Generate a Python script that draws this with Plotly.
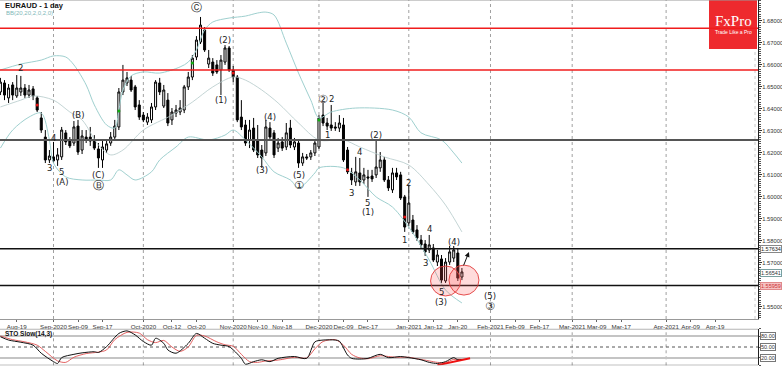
import plotly.graph_objects as go
import pandas as pd

# ---------------- calendar (trading days shown on the chart) ----------------
HOLIDAYS = ["2020-12-25", "2021-01-01"]
bar_dates = [d.strftime("%Y-%m-%d") for d in pd.bdate_range("2020-08-13", "2021-01-21")
             if d.strftime("%Y-%m-%d") not in HOLIDAYS]

# ---------------- EURAUD daily OHLC ----------------
open_ = [1.6476, 1.6517, 1.6449, 1.6508, 1.6458, 1.6476, 1.6494, 1.6462, 1.6490, 1.6449,
         1.6358, 1.6271, 1.6167, 1.6181, 1.6167, 1.6181, 1.6290, 1.6258, 1.6244, 1.6321,
         1.6212, 1.6271, 1.6271, 1.6258, 1.6217, 1.6167, 1.6212, 1.6244, 1.6271, 1.6317,
         1.6476, 1.6517, 1.6530, 1.6499, 1.6417, 1.6371, 1.6339, 1.6349, 1.6408, 1.6517,
         1.6412, 1.6439, 1.6349, 1.6380, 1.6385, 1.6394, 1.6499, 1.6544, 1.6635, 1.6703,
         1.6758, 1.6603, 1.6612, 1.6599, 1.6576, 1.6612, 1.6676, 1.6576, 1.6544, 1.6362,
         1.6326, 1.6258, 1.6312, 1.6258, 1.6212, 1.6199, 1.6312, 1.6290, 1.6221, 1.6249,
         1.6226, 1.6312, 1.6226, 1.6244, 1.6153, 1.6181, 1.6181, 1.6199, 1.6226, 1.6371,
         1.6335, 1.6326, 1.6317, 1.6312, 1.6326, 1.6212, 1.6108, 1.6067, 1.6108, 1.6076,
         1.6090, 1.6094, 1.6099, 1.6131, 1.6167, 1.6076, 1.6031, 1.6108, 1.6099, 1.5999,
         1.5881, 1.5894, 1.5849, 1.5803, 1.5785, 1.5758, 1.5767, 1.5703, 1.5717, 1.5617,
         1.5703, 1.5721, 1.5744, 1.5635]
high_ = [1.6540, 1.6530, 1.6512, 1.6521, 1.6553, 1.6549, 1.6512, 1.6508, 1.6503, 1.6458,
         1.6385, 1.6303, 1.6212, 1.6249, 1.6221, 1.6317, 1.6303, 1.6271, 1.6344, 1.6349,
         1.6303, 1.6303, 1.6317, 1.6280, 1.6244, 1.6258, 1.6258, 1.6294, 1.6349, 1.6494,
         1.6599, 1.6567, 1.6549, 1.6508, 1.6439, 1.6385, 1.6380, 1.6426, 1.6530, 1.6540,
         1.6508, 1.6471, 1.6403, 1.6417, 1.6439, 1.6508, 1.6567, 1.6644, 1.6730, 1.6817,
         1.6771, 1.6667, 1.6630, 1.6621, 1.6644, 1.6689, 1.6685, 1.6594, 1.6553, 1.6439,
         1.6349, 1.6349, 1.6358, 1.6326, 1.6235, 1.6349, 1.6339, 1.6303, 1.6267, 1.6271,
         1.6335, 1.6349, 1.6267, 1.6258, 1.6199, 1.6194, 1.6212, 1.6258, 1.6371, 1.6426,
         1.6358, 1.6417, 1.6339, 1.6371, 1.6358, 1.6226, 1.6131, 1.6181, 1.6176, 1.6131,
         1.6122, 1.6122, 1.6258, 1.6203, 1.6181, 1.6094, 1.6131, 1.6131, 1.6113, 1.6008,
         1.6053, 1.5917, 1.5871, 1.5826, 1.5803, 1.5826, 1.5785, 1.5758, 1.5735, 1.5721,
         1.5776, 1.5776, 1.5767, 1.5676]
low_ = [1.6462, 1.6439, 1.6426, 1.6439, 1.6449, 1.6458, 1.6449, 1.6449, 1.6439, 1.6385,
        1.6290, 1.6153, 1.6153, 1.6153, 1.6140, 1.6167, 1.6235, 1.6221, 1.6231, 1.6190,
        1.6194, 1.6244, 1.6231, 1.6212, 1.6131, 1.6131, 1.6199, 1.6231, 1.6258, 1.6303,
        1.6462, 1.6503, 1.6476, 1.6394, 1.6349, 1.6339, 1.6326, 1.6335, 1.6394, 1.6462,
        1.6403, 1.6321, 1.6326, 1.6362, 1.6371, 1.6380, 1.6485, 1.6530, 1.6621, 1.6694,
        1.6658, 1.6585, 1.6549, 1.6558, 1.6462, 1.6599, 1.6567, 1.6521, 1.6339, 1.6303,
        1.6231, 1.6221, 1.6203, 1.6176, 1.6131, 1.6185, 1.6258, 1.6176, 1.6203, 1.6208,
        1.6212, 1.6221, 1.6212, 1.6131, 1.6140, 1.6167, 1.6167, 1.6185, 1.6217, 1.6321,
        1.6303, 1.6299, 1.6299, 1.6294, 1.6158, 1.6103, 1.6053, 1.6049, 1.6049, 1.6058,
        1.5999, 1.6067, 1.6085, 1.6113, 1.6067, 1.6026, 1.6017, 1.6076, 1.5985, 1.5840,
        1.5867, 1.5831, 1.5799, 1.5767, 1.5731, 1.5744, 1.5703, 1.5685, 1.5608, 1.5608,
        1.5690, 1.5703, 1.5617, 1.5621]
close_ = [1.6521, 1.6462, 1.6494, 1.6462, 1.6494, 1.6494, 1.6462, 1.6485, 1.6458, 1.6394,
          1.6303, 1.6167, 1.6185, 1.6163, 1.6190, 1.6303, 1.6249, 1.6231, 1.6317, 1.6203,
          1.6276, 1.6258, 1.6253, 1.6221, 1.6176, 1.6226, 1.6240, 1.6271, 1.6321, 1.6476,
          1.6530, 1.6540, 1.6485, 1.6408, 1.6362, 1.6349, 1.6362, 1.6408, 1.6521, 1.6476,
          1.6485, 1.6335, 1.6385, 1.6394, 1.6403, 1.6499, 1.6544, 1.6630, 1.6712, 1.6780,
          1.6667, 1.6630, 1.6562, 1.6567, 1.6621, 1.6676, 1.6576, 1.6544, 1.6349, 1.6317,
          1.6244, 1.6303, 1.6212, 1.6190, 1.6176, 1.6317, 1.6271, 1.6190, 1.6244, 1.6221,
          1.6290, 1.6235, 1.6249, 1.6153, 1.6181, 1.6176, 1.6199, 1.6244, 1.6358, 1.6335,
          1.6321, 1.6312, 1.6312, 1.6335, 1.6167, 1.6113, 1.6076, 1.6113, 1.6067, 1.6099,
          1.6085, 1.6081, 1.6135, 1.6167, 1.6076, 1.6040, 1.6108, 1.6090, 1.5994, 1.5862,
          1.5971, 1.5840, 1.5812, 1.5781, 1.5749, 1.5781, 1.5712, 1.5735, 1.5621, 1.5703,
          1.5749, 1.5758, 1.5630, 1.5658]

# ---------------- Bollinger bands ----------------
bb_up_dates = ["2020-08-13", "2020-08-20", "2020-08-27", "2020-09-01", "2020-09-04", "2020-09-08",
               "2020-09-11", "2020-09-15", "2020-09-18", "2020-09-22", "2020-09-23", "2020-09-24",
               "2020-09-28", "2020-10-01", "2020-10-07", "2020-10-14", "2020-10-16", "2020-10-20",
               "2020-10-22", "2020-10-26", "2020-10-30", "2020-11-05", "2020-11-10", "2020-11-12",
               "2020-11-16", "2020-11-19", "2020-11-24", "2020-11-27", "2020-12-01", "2020-12-04",
               "2020-12-14", "2020-12-28", "2021-01-04", "2021-01-07", "2021-01-14", "2021-01-19",
               "2021-01-21"]
bb_up = [1.6576, 1.6603, 1.6621, 1.6640, 1.6635, 1.6599, 1.6508, 1.6417, 1.6326, 1.6312,
         1.6394, 1.6485, 1.6549, 1.6567, 1.6562, 1.6590, 1.6612, 1.6667, 1.6758, 1.6794,
         1.6812, 1.6821, 1.6835, 1.6839, 1.6826, 1.6698, 1.6562, 1.6439, 1.6358, 1.6385,
         1.6403, 1.6394, 1.6362, 1.6290, 1.6258, 1.6199, 1.6153]
bb_mid_dates = ["2020-08-13", "2020-08-20", "2020-08-25", "2020-09-01", "2020-09-07", "2020-09-10",
                "2020-09-16", "2020-09-21", "2020-09-24", "2020-10-01", "2020-10-12", "2020-10-19",
                "2020-10-26", "2020-11-02", "2020-11-05", "2020-11-11", "2020-11-17", "2020-11-24",
                "2020-12-01", "2020-12-09", "2020-12-15", "2020-12-23", "2021-01-04", "2021-01-11",
                "2021-01-15", "2021-01-21"]
bb_mid = [1.6408, 1.6439, 1.6458, 1.6439, 1.6385, 1.6349, 1.6235, 1.6190, 1.6212, 1.6303,
          1.6371, 1.6430, 1.6499, 1.6544, 1.6530, 1.6485, 1.6426, 1.6335, 1.6258, 1.6258,
          1.6226, 1.6181, 1.6144, 1.6053, 1.5962, 1.5840]
bb_low_dates = ["2020-08-13", "2020-08-18", "2020-08-24", "2020-08-27", "2020-08-31", "2020-09-01",
                "2020-09-04", "2020-09-10", "2020-09-16", "2020-09-21", "2020-09-23", "2020-09-25",
                "2020-09-29", "2020-10-05", "2020-10-07", "2020-10-13", "2020-10-16", "2020-10-23",
                "2020-10-29", "2020-11-02", "2020-11-05", "2020-11-11", "2020-11-16", "2020-11-20",
                "2020-11-24", "2020-11-30", "2020-12-01", "2020-12-09", "2020-12-15", "2020-12-21",
                "2020-12-28", "2021-01-05", "2021-01-11", "2021-01-15", "2021-01-21"]
bb_low = [1.6221, 1.6303, 1.6362, 1.6380, 1.6258, 1.6153, 1.6090, 1.6076, 1.6076, 1.6076,
          1.6122, 1.6099, 1.6076, 1.6113, 1.6167, 1.6226, 1.6271, 1.6258, 1.6280, 1.6303,
          1.6258, 1.6181, 1.6113, 1.6076, 1.6040, 1.6108, 1.6131, 1.6131, 1.6076, 1.5999,
          1.5953, 1.5835, 1.5712, 1.5576, 1.5517]

# ---------------- signal dots ----------------
red_dot_dates = ["2020-08-26", "2020-11-02", "2020-12-10", "2020-12-31"]
red_dot_prices = [1.6417, 1.6562, 1.6122, 1.5908]
green_dot_dates = ["2020-09-23", "2020-10-19", "2020-12-01"]
green_dot_prices = [1.6389, 1.6608, 1.6349]

# ---------------- horizontal levels ----------------
red_levels = [1.67655, 1.65759]
grey_levels = [1.62577]
black_levels = [1.57634, 1.55964]

# ---------------- wave labels ----------------
wave_text = ["2", "3", "4", "5", "(A)", "(B)", "(C)", "Ⓑ", "Ⓒ", "(2)", "(1)", "(4)", "(3)",
             "(5)", "①", "②", "2", "1", "(2)", "3", "4", "5", "(1)", "2", "1", "4", "3",
             "(4)", "5", "(3)", "(5)", "③"]
wave_dates = ["2020-08-20", "2020-08-31", "2020-09-01", "2020-09-03", "2020-09-03", "2020-09-09",
              "2020-09-16", "2020-09-16", "2020-10-20", "2020-10-29", "2020-10-28", "2020-11-13",
              "2020-11-11", "2020-11-24", "2020-11-24", "2020-12-02", "2020-12-04", "2020-12-03",
              "2020-12-21", "2020-12-11", "2020-12-15", "2020-12-17", "2020-12-17", "2021-01-04",
              "2020-12-31", "2021-01-11", "2021-01-08", "2021-01-19", "2021-01-14", "2021-01-14",
              "2021-02-01", "2021-02-01"]
wave_prices = [1.6585, 1.6131, 1.6267, 1.6113, 1.6067, 1.6371, 1.6099, 1.6049, 1.6858, 1.6712,
               1.6439, 1.6362, 1.6122, 1.6099, 1.6049, 1.6444, 1.6444, 1.6280, 1.6280, 1.6017,
               1.6203, 1.5971, 1.5930, 1.6062, 1.5803, 1.5853, 1.5699, 1.5794, 1.5567, 1.5521,
               1.5549, 1.5503]

# ---------------- highlight circles / arrow ----------------
circle_dates = ["2021-01-15", "2021-01-21 12:00"]
circle_prices = [1.5617, 1.5621]
arrow_date = "2021-01-22"
arrow_price = 1.5749

# ---------------- price axis / tags ----------------
price_ticks = [1.55, 1.57, 1.58, 1.59, 1.60, 1.61, 1.62, 1.63, 1.64, 1.65, 1.66, 1.67, 1.68]
tag_prices = [1.57634, 1.56541, 1.55959]
tag_text = ["1.57634", "1.56541", "1.55959"]

# ---------------- Stochastic slow (14,3) ----------------
sto_k_dates = ["2020-08-13", "2020-08-17", "2020-08-20", "2020-08-25", "2020-08-27", "2020-09-01",
               "2020-09-02", "2020-09-03", "2020-09-08", "2020-09-10", "2020-09-15", "2020-09-16",
               "2020-09-18", "2020-09-23", "2020-09-25", "2020-09-29", "2020-10-01", "2020-10-05",
               "2020-10-06", "2020-10-08", "2020-10-09", "2020-10-13", "2020-10-16", "2020-10-20",
               "2020-10-22", "2020-10-26", "2020-10-28", "2020-10-30", "2020-11-04", "2020-11-05",
               "2020-11-09", "2020-11-11", "2020-11-13", "2020-11-17", "2020-11-23", "2020-11-26",
               "2020-11-30", "2020-12-02", "2020-12-07", "2020-12-08", "2020-12-10", "2020-12-11",
               "2020-12-15", "2020-12-17", "2020-12-22", "2020-12-24", "2020-12-30", "2021-01-04",
               "2021-01-07", "2021-01-11", "2021-01-13", "2021-01-15", "2021-01-19", "2021-01-20",
               "2021-01-21"]
sto_k = [78, 69, 63, 55, 33, 10, 5, 21, 30, 34, 37, 35, 51, 87, 94, 83, 65, 55, 74, 60, 42, 33,
         60, 87, 74, 60, 55, 51, 19, 3, 10, 15, 10, 19, 24, 19, 64, 69, 69, 66, 28, 19, 17, 19,
         30, 21, 24, 21, 15, 8, 5, 10, 21, 15, 16]
sto_d_dates = ["2020-08-13", "2020-08-18", "2020-08-21", "2020-08-26", "2020-08-28", "2020-09-02",
               "2020-09-04", "2020-09-08", "2020-09-11", "2020-09-16", "2020-09-18", "2020-09-22",
               "2020-09-25", "2020-09-30", "2020-10-02", "2020-10-06", "2020-10-08", "2020-10-12",
               "2020-10-14", "2020-10-16", "2020-10-20", "2020-10-22", "2020-10-27", "2020-10-29",
               "2020-11-02", "2020-11-04", "2020-11-06", "2020-11-10", "2020-11-12", "2020-11-16",
               "2020-11-18", "2020-11-23", "2020-11-26", "2020-11-30", "2020-12-02", "2020-12-07",
               "2020-12-09", "2020-12-11", "2020-12-15", "2020-12-17", "2020-12-22", "2020-12-24",
               "2020-12-29", "2021-01-04", "2021-01-06", "2021-01-11", "2021-01-13", "2021-01-15",
               "2021-01-19", "2021-01-21"]
sto_d = [80, 70, 64, 55, 38, 12, 8, 22, 32, 36, 42, 70, 90, 88, 70, 62, 68, 50, 38, 50, 82, 80,
         64, 56, 52, 30, 10, 8, 12, 13, 16, 22, 20, 45, 65, 70, 55, 30, 20, 18, 26, 24, 22, 22,
         18, 12, 8, 8, 16, 16]
sto_trend_dates = ["2021-01-13", "2021-01-25"]
sto_trend_vals = [0.5, 19]
sto_levels = [80, 50, 20]
sto_level_text = ["80.00", "50.00", "20.00"]

# ---------------- date axis labels ----------------
tick_dates = ["2020-08-19", "2020-09-01", "2020-09-09", "2020-09-17", "2020-10-01", "2020-10-12",
              "2020-10-20", "2020-11-02", "2020-11-10", "2020-11-18", "2020-12-01", "2020-12-09",
              "2020-12-17", "2021-01-04", "2021-01-12", "2021-01-20", "2021-02-01", "2021-02-09",
              "2021-02-17", "2021-03-01", "2021-03-09", "2021-03-17", "2021-04-01", "2021-04-09",
              "2021-04-19"]
tick_text = ["Aug-19", "Sep-2020", "Sep-09", "Sep-17", "Oct-2020", "Oct-12", "Oct-20", "Nov-2020",
             "Nov-10", "Nov-18", "Dec-2020", "Dec-09", "Dec-17", "Jan-2021", "Jan-12", "Jan-20",
             "Feb-2021", "Feb-09", "Feb-17", "Mar-2021", "Mar-09", "Mar-17", "Apr-2021", "Apr-09",
             "Apr-19"]
month_starts = ["2020-09-01", "2020-10-01", "2020-11-02", "2020-12-01", "2021-01-04",
                "2021-02-01", "2021-03-01", "2021-04-01"]

# ================= figure =================
W, H = 782, 366
FONT = "Liberation Sans, Arial, sans-serif"
main_bottom_px, sto_top_px, sto_bot_px = 319, 328.7, 365.3

fig = go.Figure()

fig.add_trace(go.Candlestick(
    x=bar_dates, open=open_, high=high_, low=low_, close=close_,
    increasing=dict(line=dict(color="#000000", width=1), fillcolor="#ffffff"),
    decreasing=dict(line=dict(color="#000000", width=1), fillcolor="#000000"),
    whiskerwidth=0, hoverinfo="skip", showlegend=False, xaxis="x", yaxis="y"))

band_col = "#9fd0cf"
for xs, ys, col, w in [(bb_up_dates, bb_up, band_col, 1), (bb_low_dates, bb_low, band_col, 1),
                       (bb_mid_dates, bb_mid, "#b4c9c9", 0.8)]:
    fig.add_trace(go.Scatter(x=xs, y=ys, mode="lines", hoverinfo="skip", showlegend=False,
                             line=dict(color=col, width=w, shape="spline", smoothing=0.9),
                             xaxis="x", yaxis="y"))

fig.add_trace(go.Scatter(x=red_dot_dates, y=red_dot_prices, mode="markers", hoverinfo="skip",
                         marker=dict(color="#e01010", size=3), showlegend=False))
fig.add_trace(go.Scatter(x=green_dot_dates, y=green_dot_prices, mode="markers", hoverinfo="skip",
                         marker=dict(color="#10b010", size=3), showlegend=False))

# stochastic
fig.add_trace(go.Scatter(x=sto_d_dates, y=sto_d, mode="lines", hoverinfo="skip", showlegend=False,
                         line=dict(color="#e05050", width=0.9, shape="spline", smoothing=0.8),
                         xaxis="x2", yaxis="y2"))
fig.add_trace(go.Scatter(x=sto_k_dates, y=sto_k, mode="lines", hoverinfo="skip", showlegend=False,
                         line=dict(color="#111111", width=1, shape="spline", smoothing=0.8),
                         xaxis="x2", yaxis="y2"))
fig.add_trace(go.Scatter(x=sto_trend_dates, y=sto_trend_vals, mode="lines", hoverinfo="skip",
                         showlegend=False, line=dict(color="#ee1111", width=2),
                         xaxis="x2", yaxis="y2"))

shapes = []
# logo box
shapes.append(dict(type="rect", xref="paper", yref="paper", x0=709 / 758, x1=757 / 758,
                   y0=1 - 49 / H, y1=1, fillcolor="#ee2a2e", line=dict(width=0), layer="above"))
# month separators
for d in month_starts:
    for yr in ["y domain", "y2 domain"]:
        shapes.append(dict(type="line", xref="x" if yr == "y domain" else "x2", yref=yr,
                           x0=d, x1=d, y0=0, y1=1,
                           line=dict(color="#a0a0a0", width=1, dash="dot"), layer="below"))
# dotted line along the right edge
shapes.append(dict(type="line", xref="paper", yref="paper", x0=755 / 758, x1=755 / 758,
                   y0=1 - main_bottom_px / H, y1=1,
                   line=dict(color="#c8c8c8", width=1, dash="dot"), layer="below"))
for lv in red_levels:
    shapes.append(dict(type="line", xref="paper", yref="y", x0=0, x1=1, y0=lv, y1=lv,
                       line=dict(color="#f01c1c", width=1.6)))
for lv in grey_levels:
    shapes.append(dict(type="line", xref="paper", yref="y", x0=0, x1=1, y0=lv, y1=lv,
                       line=dict(color="#555555", width=2)))
for lv in black_levels:
    shapes.append(dict(type="line", xref="paper", yref="y", x0=0, x1=1, y0=lv, y1=lv,
                       line=dict(color="#111111", width=1.6)))
# highlight circles
for d, p in zip(circle_dates, circle_prices):
    shapes.append(dict(type="circle", xref="x", yref="y", xsizemode="pixel", ysizemode="pixel",
                       xanchor=d, yanchor=p, x0=-15, x1=15, y0=-15, y1=15,
                       fillcolor="rgba(255,90,90,0.22)", line=dict(color="rgba(225,60,60,0.9)", width=1)))
# stochastic levels and frame
shapes.append(dict(type="line", xref="paper", yref="y2", x0=0, x1=1, y0=100, y1=100,
                   line=dict(color="#b5b5b5", width=2)))
shapes.append(dict(type="line", xref="paper", yref="y2", x0=0, x1=1, y0=0, y1=0,
                   line=dict(color="#666666", width=1)))
for lv in sto_levels:
    if lv == 50:
        shapes.append(dict(type="line", xref="paper", yref="y2", x0=0, x1=1, y0=lv, y1=lv,
                           line=dict(color="#555555", width=1, dash="dot"), layer="below"))
    else:
        shapes.append(dict(type="line", xref="paper", yref="y2", x0=0, x1=1, y0=lv, y1=lv,
                           line=dict(color="#c4c4c4", width=2), layer="below"))
# main top border
shapes.append(dict(type="line", xref="paper", yref="paper", x0=0, x1=1, y0=1, y1=1,
                   line=dict(color="#999999", width=1)))

ann = []
for t, d, p in zip(wave_text, wave_dates, wave_prices):
    circ = t in ("Ⓑ", "Ⓒ", "①", "②", "③")
    ann.append(dict(x=d, y=p, xref="x", yref="y", text=t, showarrow=False,
                    font=dict(family="DejaVu Sans, sans-serif", size=11 if circ else 8.5,
                              color="#222222")))
ann.append(dict(x=arrow_date, y=arrow_price, xref="x", yref="y", text="", showarrow=True,
                xshift=3, ax=-6, ay=15, arrowhead=2, arrowsize=1, arrowwidth=1,
                arrowcolor="#111111"))
# titles
ann.append(dict(x=0.004, y=1 - 5 / H, xref="paper", yref="paper", text="<b>EURAUD - 1 day</b>",
                showarrow=False, xanchor="left", yanchor="middle",
                font=dict(family=FONT, size=7.5, color="#111111")))
ann.append(dict(x=0.005, y=1 - 13.5 / H, xref="paper", yref="paper", text="BB(20,20,2,0,2,0)",
                showarrow=False, xanchor="left", yanchor="middle",
                font=dict(family=FONT, size=6, color="#7fb8b8")))
ann.append(dict(x=0.004, y=1 - 334 / H, xref="paper", yref="paper", text="<b>STO Slow(14,3)</b>",
                showarrow=False, xanchor="left", yanchor="middle",
                font=dict(family=FONT, size=6.5, color="#111111")))
# logo text
ann.append(dict(x=733 / 758, y=1 - 21 / H, xref="paper", yref="paper", text="FxPro",
                showarrow=False, xanchor="center", yanchor="middle",
                font=dict(family="Liberation Serif, serif", size=15, color="#ffffff")))
ann.append(dict(x=733 / 758, y=1 - 32 / H, xref="paper", yref="paper", text="Trade Like a Pro",
                showarrow=False, xanchor="center", yanchor="middle",
                font=dict(family=FONT, size=5, color="#ffffff")))
# price tags
tag_style = [("#ffffff", "#888888", "#222222"), ("#ffffff", "#7aa0a0", "#333333"),
             ("#f5c2c2", "#e08a8a", "#cc3333")]
for p, t, (bg, bc, fc) in zip(tag_prices, tag_text, tag_style):
    ann.append(dict(x=1, y=p, xref="paper", yref="y", text=t, showarrow=False, xanchor="left",
                    yanchor="middle", xshift=2, bgcolor=bg, bordercolor=bc, borderwidth=1,
                    borderpad=0, font=dict(family=FONT, size=5.5, color=fc)))
for lv, t in zip(sto_levels, sto_level_text):
    ann.append(dict(x=1, y=lv, xref="paper", yref="y2", text=t, showarrow=False, xanchor="left",
                    yanchor="middle", xshift=2, bgcolor="#ffffff", bordercolor="#777777",
                    borderwidth=1, borderpad=0, font=dict(family=FONT, size=5.5, color="#333333")))

x_range = ["2020-08-12 21:36", "2021-05-03 12:00"]
rb = [dict(bounds=["sat", "mon"]), dict(values=HOLIDAYS)]

fig.update_layout(
    width=W, height=H, margin=dict(l=0, r=24, t=0, b=0),
    paper_bgcolor="#ffffff", plot_bgcolor="#ffffff", showlegend=False,
    font=dict(family=FONT, size=6.5, color="#333333"),
    xaxis=dict(domain=[0, 1], anchor="y", type="date", range=x_range, rangebreaks=rb,
               rangeslider=dict(visible=False), tickmode="array", tickvals=tick_dates,
               ticktext=tick_text, tickangle=0, ticks="outside", ticklen=2, tickcolor="#666666",
               tickfont=dict(family=FONT, size=6.2, color="#333333"), showgrid=False,
               showline=True, linecolor="#999999", linewidth=1, zeroline=False),
    yaxis=dict(domain=[1 - main_bottom_px / H, 1], anchor="x", side="right",
               range=[1.58 - (main_bottom_px - 240.7) / 2200, 1.58 + 240.7 / 2200],
               tickmode="array", tickvals=price_ticks, tickformat=".5f", ticks="outside",
               ticklen=3, ticklabelstandoff=-1, automargin=False,
               tickcolor="#333333", minor=dict(ticks="outside", ticklen=2, dtick=0.001,
                                               tickcolor="#555555"),
               tickfont=dict(family=FONT, size=5.8, color="#333333"), showgrid=False,
               showline=True, linecolor="#222222", linewidth=1, zeroline=False),
    xaxis2=dict(domain=[0, 1], anchor="y2", type="date", range=x_range, rangebreaks=rb,
                matches="x", showticklabels=False, ticks="", showgrid=False, showline=False,
                zeroline=False),
    yaxis2=dict(domain=[1 - sto_bot_px / H, 1 - sto_top_px / H], anchor="x2", side="right",
                range=[0, 100], showticklabels=False, ticks="outside", ticklen=2,
                tickvals=[0, 20, 50, 80, 100], tickcolor="#555555", showgrid=False,
                showline=True, linecolor="#222222", linewidth=1, zeroline=False),
    shapes=shapes, annotations=ann,
)

fig.write_html("out.html", config={"displayModeBar": False, "staticPlot": True},
               post_script="document.body.style.margin='0px';document.body.style.overflow='hidden';")
